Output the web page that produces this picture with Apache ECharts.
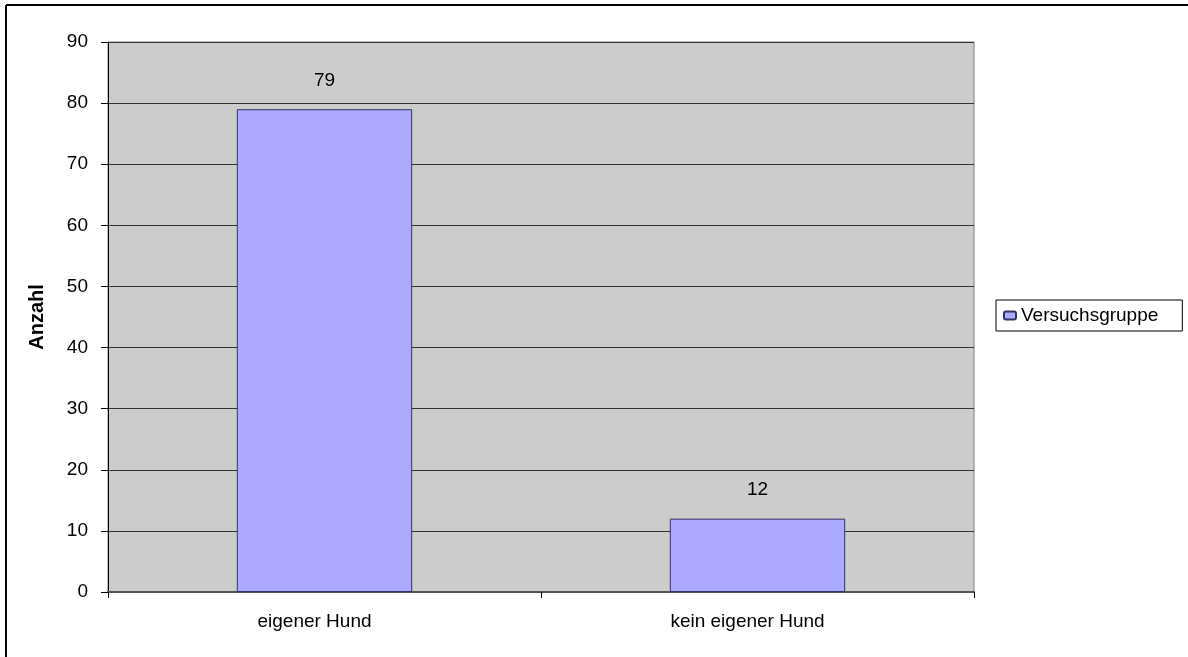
<!DOCTYPE html>
<html>
<head>
<meta charset="utf-8">
<script src="https://cdn.jsdelivr.net/npm/echarts@6/dist/echarts.min.js"></script>
<style>
  html, body { margin: 0; padding: 0; background: #fff; }
  #chart { width: 1188px; height: 657px; }
</style>
</head>
<body>
<div id="chart"></div>
<script>
// Data
const categories = ['eigener Hund', 'kein eigener Hund'];
const seriesName = 'Versuchsgruppe';
const values = [79, 12];
const yTicks = { min: 0, max: 90, interval: 10 };

const chart = echarts.init(document.getElementById('chart'));

const option = {
    backgroundColor: '#ffffff',
    textStyle: { fontFamily: '"Liberation Sans", Arial, sans-serif' },
    animation: false,
    // outer frame (only top and left edges are visible)
    graphic: [
        { type: 'line', shape: { x1: 6, y1: 5, x2: 1188, y2: 5 }, style: { stroke: '#000', lineWidth: 2 } },
        { type: 'line', shape: { x1: 6, y1: 5, x2: 6, y2: 657 }, style: { stroke: '#000', lineWidth: 2 } }
    ],
    grid: {
        left: 108,
        right: 214,
        top: 42,
        bottom: 65,
        show: true,
        backgroundColor: '#CCCCCC',
        borderColor: '#808080',
        borderWidth: 1
    },
    legend: {
        data: [seriesName],
        left: 996,
        top: 300,
        orient: 'vertical',
        backgroundColor: '#ffffff',
        borderColor: '#000',
        borderWidth: 1,
        borderRadius: 0,
        padding: [6, 24, 6, 7],
        itemWidth: 12,
        itemHeight: 8,
        itemGap: 0,
        textStyle: { fontSize: 19, color: '#000', padding: [0, 0, 4, 0] }
    },
    xAxis: {
        type: 'category',
        data: categories,
        axisLine: { lineStyle: { color: '#555', width: 2 } },
        axisTick: { show: true, length: 6, lineStyle: { color: '#000' } },
        axisLabel: { color: '#000', fontSize: 19, margin: 20, padding: [0, 20, 0, 0] },
        splitLine: { show: false }
    },
    yAxis: {
        type: 'value',
        min: yTicks.min,
        max: yTicks.max,
        interval: yTicks.interval,
        name: 'Anzahl',
        nameLocation: 'middle',
        nameGap: 61,
        nameTextStyle: { fontSize: 20, fontWeight: 'bold', color: '#000' },
        axisLine: { show: true, lineStyle: { color: '#000', width: 1 } },
        axisTick: { show: true, length: 7, lineStyle: { color: '#000' } },
        axisLabel: { color: '#000', fontSize: 19, margin: 20 },
        splitLine: { show: true, lineStyle: { color: '#333', width: 1 } }
    },
    series: [{
        name: seriesName,
        type: 'bar',
        data: values,
        barWidth: '40.5%',
        itemStyle: {
            color: '#AAAAFF',
            borderColor: '#333366',
            borderWidth: 1
        },
        label: {
            show: true,
            position: 'top',
            distance: 19,
            color: '#000',
            fontSize: 19
        }
    }]
};

chart.setOption(option);
</script>
</body>
</html>
